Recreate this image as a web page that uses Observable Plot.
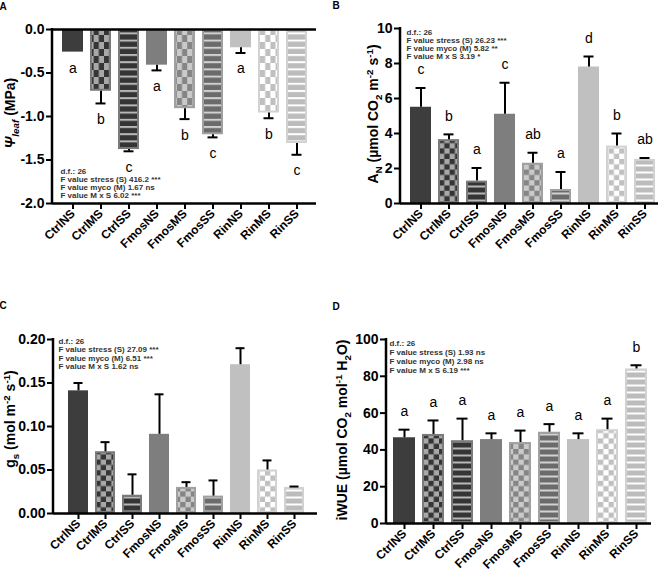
<!DOCTYPE html>
<html><head><meta charset="utf-8">
<script src="https://cdn.jsdelivr.net/npm/d3@7"></script>
<script src="https://cdn.jsdelivr.net/npm/@observablehq/plot@0.6"></script>
<style>
body{margin:0;background:#fff;}
#wrap{position:relative;width:666px;height:581px;overflow:hidden;font-family:"Liberation Sans",Arial,sans-serif;}
</style></head><body><div id="wrap"></div>
<script>
// ---------- data ----------
const categories = ["CtrlNS","CtrlMS","CtrlSS","FmosNS","FmosMS","FmosSS","RinNS","RinMS","RinSS"];

const psiMean = [-0.26,-0.71,-1.38,-0.41,-0.91,-1.21,-0.21,-0.96,-1.31];
const psiErr  = [0,0.14,0.02,0.06,0.12,0.03,0.06,0.06,0.13];
const psiLetters = ["a","b","c","a","b","c","a","b","c"];
const psiTicks = [0,-0.5,-1,-1.5,-2];
const psiStats = ["d.f.: 26","F value stress (S) 416.2 ***","F value myco (M) 1.67 ns","F value M x S 6.02 ***"];

const anMean = [5.5,3.65,1.28,5.1,2.3,0.8,7.8,3.28,2.52];
const anErr  = [1.1,0.3,0.75,1.8,0.6,1.0,0.6,0.72,0.08];
const anLetters = ["c","b","a","c","ab","a","d","b","ab"];
const anTicks = [0,2,4,6,8,10];
const anStats = ["d.f.: 26","F value stress (S) 26.23 ***","F value myco (M) 5.82 **","F value M x S 3.19 *"];

const gsMean = [0.141,0.071,0.021,0.091,0.030,0.020,0.171,0.050,0.030];
const gsErr  = [0.009,0.011,0.024,0.046,0.006,0.018,0.019,0.011,0.001];
const gsTicks = [0,0.05,0.10,0.15,0.20];
const gsStats = ["d.f.: 26","F value stress (S) 27.09 ***","F value myco (M) 6.51 ***","F value M x S 1.62 ns"];

const wueMean = [46.6,48.4,45,45.6,44,49.6,45.6,51,84];
const wueErr  = [4.4,7.6,12,3.4,6.5,4.4,3.4,6,2];
const wueLetters = ["a","a","a","a","a","a","a","a","b"];
const wueTicks = [0,20,40,60,80,100];
const wueStats = ["d.f.: 26","F value stress (S) 1.93 ns","F value myco (M) 2.98 ns","F value M x S 6.19 ***"];

// ---------- styles ----------
const FONT = '"Liberation Sans", Arial, Helvetica, sans-serif';
const base = {Ctrl:"#3d3d3d", Fmos:"#7e7e7e", Rin:"#c0c0c0"};
const check = {Ctrl:["#353535","#a8a8a8"], Fmos:["#858585","#cacaca"], Rin:["#c0c0c0","#ffffff"]};
const strip = {Ctrl:["#353535","#b8b8b8"], Fmos:["#6b6b6b","#d2d2d2"], Rin:["#bcbcbc","#ffffff"]};
const edge = {Ctrl:"#7a7a7a", Fmos:"#a0a0a0", Rin:"#d2d2d2"};

const wrap = d3.select("#wrap");
const defs = wrap.append("svg").attr("width",0).attr("height",0)
  .style("position","absolute").append("defs");

function makePatterns(suf, cw, ch, period) {
  for (const g of ["Ctrl","Fmos","Rin"]) {
    const p = defs.append("pattern").attr("id", g+"MS"+suf).attr("patternUnits","userSpaceOnUse")
      .attr("width", 2*cw).attr("height", 2*ch);
    p.append("rect").attr("width",2*cw).attr("height",2*ch).attr("fill",check[g][1]);
    p.append("rect").attr("width",cw).attr("height",ch).attr("fill",check[g][0]);
    p.append("rect").attr("x",cw).attr("y",ch).attr("width",cw).attr("height",ch).attr("fill",check[g][0]);
    const s = defs.append("pattern").attr("id", g+"SS"+suf).attr("patternUnits","userSpaceOnUse")
      .attr("width", 10).attr("height", period);
    s.append("rect").attr("width",10).attr("height",period).attr("fill",strip[g][0]);
    s.append("rect").attr("y",period/2).attr("width",10).attr("height",2).attr("fill",strip[g][1]);
  }
}
makePatterns("A", 5.2, 7, 7.2);
makePatterns("B", 5.3, 5.3, 7);

function fillFor(cat, suf) {
  const g = cat.replace(/(NS|MS|SS)$/,""), t = cat.slice(-2);
  return t === "NS" ? base[g] : `url(#${g}${t}${suf})`;
}
function strokeFor(cat) {
  const g = cat.replace(/(NS|MS|SS)$/,""), t = cat.slice(-2);
  return t === "NS" ? base[g] : edge[g];
}

function leftLine() {
  return (index, scales, values, dim) =>
    d3.create("svg:line")
      .attr("x1", dim.marginLeft).attr("x2", dim.marginLeft)
      .attr("y1", dim.marginTop - 1).attr("y2", dim.height - dim.marginBottom + 1)
      .attr("stroke","black").attr("stroke-width",2.5).node();
}

function panel(cfg) {
  const rows = categories.map((c,i) => ({
    cat: c, mean: cfg.mean[i], err: cfg.err[i],
    end: cfg.mean[i] + cfg.dir*cfg.err[i],
    letter: cfg.letters ? cfg.letters[i] : null
  }));
  const withErr = rows.filter(d => d.err > 0);
  const marks = [];
  rows.forEach(r => marks.push(Plot.barY([r], {
    x: "cat", y: "mean", fill: fillFor(r.cat, cfg.pat), stroke: strokeFor(r.cat),
    strokeWidth: 2, inset: 1
  })));
  marks.push(Plot.ruleX(withErr, {x: "cat", y1: "mean", y2: "end", stroke: "black", strokeWidth: 2}));
  marks.push(Plot.tickY(withErr, {x: "cat", y: "end", stroke: "black", strokeWidth: 2, insetLeft: 5.5, insetRight: 5.5}));
  if (cfg.letters) marks.push(Plot.text(rows, {
    x: "cat", y: "end", text: "letter", dy: cfg.letterDy, fontSize: 14, fontWeight: "normal", fill: "black"
  }));
  marks.push(Plot.ruleY(cfg.rules, {stroke: "black", strokeWidth: 2.5}));
  marks.push(Plot.axisY({ticks: cfg.ticks, tickFormat: cfg.fmt, tickSize: 6, tickPadding: 2,
    strokeWidth: 2, fontSize: 14, fontWeight: "bold", label: null}));
  marks.push(Plot.axisX({tickRotate: -45, tickSize: 6, tickPadding: 2, strokeWidth: 2,
    fontSize: 12, fontWeight: "bold", label: null}));
  marks.push(Plot.text([cfg.stats.join("\n")], {
    text: d => d, frameAnchor: cfg.ann.anchor, textAnchor: "start", lineAnchor: cfg.ann.line,
    dx: cfg.ann.dx, dy: cfg.ann.dy, lineHeight: cfg.ann.lh, fontSize: 8, fontWeight: "bold", fill: "#333"
  }));
  marks.push(leftLine());

  const svg = Plot.plot({
    width: cfg.width, height: cfg.height,
    marginTop: cfg.m[0], marginRight: cfg.m[1], marginBottom: cfg.m[2], marginLeft: cfg.m[3],
    x: {domain: categories, range: cfg.xRange, paddingInner: 0.25, paddingOuter: 0.125, axis: null},
    y: {domain: cfg.domain, axis: null},
    style: {fontFamily: FONT, fontSize: "11px", fontWeight: "bold", background: "transparent", overflow: "visible", color: "black"},
    marks
  });
  const s = d3.select(svg).style("position","absolute").style("left", cfg.left+"px").style("top", cfg.top+"px");
  // panel letter
  s.append("text").attr("x", 3).attr("y", cfg.tagY).attr("font-size", 10).attr("font-weight","bold")
    .attr("font-family", FONT).text(cfg.tag);
  // y axis title
  const t = s.append("text").attr("transform", `translate(${cfg.title.x},${cfg.title.y}) rotate(-90)`)
    .attr("text-anchor","middle").attr("font-size", cfg.title.size).attr("font-weight","bold")
    .attr("font-family", FONT).attr("fill","black");
  let shift = 0;
  for (const [txt, kind, extra] of cfg.title.parts) {
    const sp = t.append("tspan").text(txt);
    let target = kind === "sub" ? 4 : kind === "sup" ? -5 : 0;
    sp.attr("dy", target - shift); shift = target;
    if (kind !== "n") sp.attr("font-size", cfg.title.size * 0.7);
    if (extra === "i") sp.attr("font-style","italic");
  }
  wrap.node().appendChild(svg);
}

panel({
  tag: "A", tagY: 10, left: 0, top: 0, width: 333, height: 290, m: [29,17,87,52],
  xRange: [58,310], domain: [-2,0], rules: [0,-2], ticks: psiTicks, fmt: d => d.toFixed(1),
  mean: psiMean, err: psiErr, letters: psiLetters, dir: -1, letterDy: 16, pat: "A",
  stats: psiStats, ann: {anchor: "bottom-left", line: "bottom", dx: 8, dy: -6, lh: 0.96},
  title: {x: 15, y: 113, size: 14, parts: [["Ψ","n","i"],["leaf","sub","i"],[" (MPa)","n"]]}
});
panel({
  tag: "B", tagY: 9, left: 333, top: 0, width: 333, height: 290, m: [28,8,87,67],
  xRange: [71.9,326.1], domain: [0,10], rules: [0], ticks: anTicks, fmt: d => String(d),
  mean: anMean, err: anErr, letters: anLetters, dir: 1, letterDy: -18, pat: "B",
  stats: anStats, ann: {anchor: "top-left", line: "top", dx: 6, dy: 1, lh: 1.0},
  title: {x: 45, y: 114, size: 14, parts: [["A","n"],["N","sub"],[" (µmol CO","n"],["2","sub"],[" m","n"],["-2","sup"],[" s","n"],["-1","sup"],[")","n"]]}
});
panel({
  tag: "C", tagY: 19, left: 0, top: 290, width: 333, height: 291, m: [49,16,68,53],
  xRange: [60,311.7], domain: [0,0.2], rules: [0], ticks: gsTicks, fmt: d => d.toFixed(2),
  mean: gsMean, err: gsErr, letters: null, dir: 1, letterDy: -18, pat: "B",
  stats: gsStats, ann: {anchor: "top-left", line: "top", dx: 5, dy: -2, lh: 1.07},
  title: {x: 15, y: 129, size: 14, parts: [["g","n"],["s","sub"],[" (mol m","n"],["-2","sup"],[" s","n"],["-1","sup"],[")","n"]]}
});
panel({
  tag: "D", tagY: 20, left: 333, top: 290, width: 333, height: 291, m: [49,15,58,53],
  xRange: [56.2,317.8], domain: [0,100], rules: [0], ticks: wueTicks, fmt: d => String(d),
  mean: wueMean, err: wueErr, letters: wueLetters, dir: 1, letterDy: -18, pat: "B",
  stats: wueStats, ann: {anchor: "top-left", line: "top", dx: 3, dy: 0, lh: 1.12},
  title: {x: 14, y: 140, size: 14, parts: [["iWUE (µmol CO","n"],["2","sub"],[" mol","n"],["-1","sup"],[" H","n"],["2","sub"],["O)","n"]]}
});
</script></body></html>
